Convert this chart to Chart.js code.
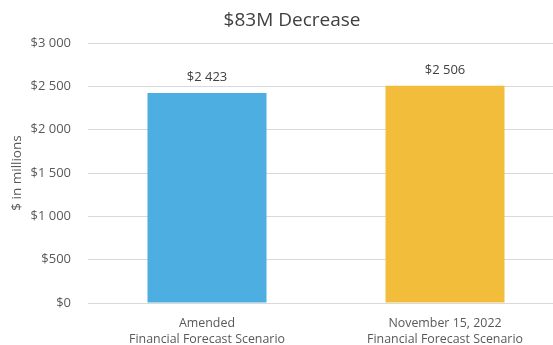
<!DOCTYPE html>
<html>
<head>
<meta charset="utf-8">
<script src="https://cdn.jsdelivr.net/npm/chart.js@4.4.1/dist/chart.umd.min.js"></script>
<style>
  html, body { margin: 0; padding: 0; background: #fff; overflow: hidden; }
  #wrap { width: 584px; height: 348px; }
</style>
</head>
<body>
<div id="wrap"><canvas id="chart"></canvas></div>
<script>
const categories = [
  ["Amended", "Financial Forecast Scenario"],
  ["November 15, 2022", "Financial Forecast Scenario"],
];
const values = [2423, 2506];
const barColors = ["#4daee2", "#f2bd3a"];
const yTicks = [0, 500, 1000, 1500, 2000, 2500, 3000];
const chartTitle = "$83M Decrease";

const FONT = "'Open Sans', 'Liberation Sans', sans-serif";

function money(v) {
  return "$" + String(v).replace(/\B(?=(\d{3})+(?!\d))/g, " ");
}

/* heading across the canvas plus value labels above each bar */
const textLayer = {
  id: "textLayer",
  afterDatasetsDraw(chart) {
    const ctx = chart.ctx;
    const meta = chart.getDatasetMeta(0);
    ctx.save();
    ctx.textAlign = "center";
    ctx.textBaseline = "middle";

    ctx.font = "19px " + FONT;
    ctx.fillStyle = "#404040";
    ctx.fillText(chartTitle, chart.width / 2, chart.chartArea.top - 22);

    ctx.font = "13px " + FONT;
    meta.data.forEach((bar, i) => {
      ctx.fillText(money(values[i]), bar.x, bar.y - 16);
    });
    ctx.restore();
  },
};

new Chart(document.getElementById("chart"), {
  type: "bar",
  data: {
    labels: categories,
    datasets: [
      {
        data: values,
        backgroundColor: barColors,
        barPercentage: 0.5,
        categoryPercentage: 1,
      },
    ],
  },
  options: {
    responsive: true,
    maintainAspectRatio: false,
    animation: false,
    layout: { padding: { left: 9, right: 20, top: 43, bottom: 1 } },
    plugins: {
      legend: { display: false },
      tooltip: { enabled: false },
    },
    scales: {
      x: {
        grid: { display: false, drawTicks: false },
        border: { color: "#d9d9d9" },
        ticks: {
          color: "#595959",
          font: { family: FONT, size: 12.4, lineHeight: 1.3 },
          padding: 12,
          maxRotation: 0,
        },
        afterFit(axis) {
          axis.height = 44;
          axis.paddingLeft = 0;
          axis.paddingRight = 0;
        },
      },
      y: {
        min: 0,
        max: 3000,
        afterBuildTicks(axis) {
          axis.ticks = yTicks.map((v) => ({ value: v }));
        },
        grid: { color: "#d9d9d9", drawTicks: false },
        border: { display: false },
        ticks: {
          color: "#595959",
          font: { family: FONT, size: 13 },
          padding: 17,
          callback: (v) => money(v),
        },
        title: {
          display: true,
          text: "$ in millions",
          color: "#595959",
          font: { family: FONT, size: 13.5, lineHeight: 1.2 },
          padding: { top: 0, bottom: 5 },
        },
        afterFit(axis) {
          axis.width = 79;
          axis.paddingTop = 0;
          axis.paddingBottom = 0;
        },
      },
    },
  },
  plugins: [textLayer],
});
</script>
</body>
</html>
